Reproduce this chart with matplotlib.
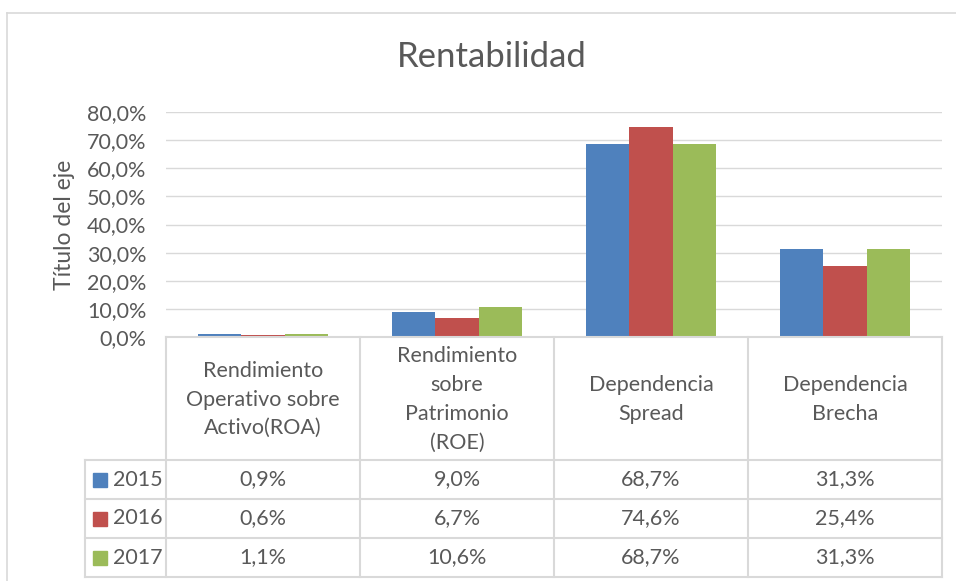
import numpy as np
import matplotlib.pyplot as plt
from matplotlib.patches import Rectangle

# Data
categories = ["Rendimiento\nOperativo sobre\nActivo(ROA)",
              "Rendimiento\nsobre\nPatrimonio\n(ROE)",
              "Dependencia\nSpread",
              "Dependencia\nBrecha"]
years = ["2015", "2016", "2017"]
v2015 = [0.009, 0.090, 0.687, 0.313]
v2016 = [0.006, 0.067, 0.746, 0.254]
v2017 = [0.011, 0.106, 0.687, 0.313]
series = [v2015, v2016, v2017]
colors = ["#4F81BD", "#C0504D", "#9BBB59"]

TXT = "#595959"
GRID = "#D9D9D9"
plt.rcParams["font.family"] = ["Lato", "DejaVu Sans"]


def pct(v, pos=None):
    return ("%.1f%%" % (v * 100)).replace(".", ",")


W, H = 956, 581
fig = plt.figure(figsize=(W / 100, H / 100), dpi=100)

# outer chart frame (right/bottom cropped in the original)
fig.add_artist(plt.Line2D([7 / W, 7 / W], [0, 1 - 13 / H], color=GRID, lw=1.2))
fig.add_artist(plt.Line2D([7 / W, 1], [1 - 13 / H, 1 - 13 / H], color=GRID, lw=1.2))

fig.text(492 / W, 1 - 57 / H, "Rentabilidad", ha="center", va="center",
         fontsize=25, color=TXT)

# plot area
x0, x1, ytop, ybot = 166, 942, 112, 337
ax = fig.add_axes([x0 / W, 1 - ybot / H, (x1 - x0) / W, (ybot - ytop) / H])
n = len(categories)
x = np.arange(n)
bw = 1 / 4.5  # Excel gap width 150 %
for i, (vals, c) in enumerate(zip(series, colors)):
    ax.bar(x + (i - 1) * bw, vals, width=bw, color=c, zorder=3)
ax.set_xlim(-0.5, n - 0.5)
ax.set_ylim(0, 0.8)
ax.set_yticks(np.arange(0, 0.81, 0.1))
ax.yaxis.set_major_formatter(plt.FuncFormatter(pct))
ax.tick_params(axis="y", length=0, pad=14, labelsize=15.5, labelcolor=TXT)
ax.set_xticks([])
ax.grid(axis="y", color=GRID, lw=1.0, zorder=0)
for s in ax.spines.values():
    s.set_visible(False)
ax.set_ylabel("Título del eje", fontsize=16.5, color=TXT, labelpad=9)

# data table below the axis
lx = 85
tb = 577
hdr_h = 123
row_h = (tb - ybot - hdr_h) / 3
tab = fig.add_axes([lx / W, 1 - tb / H, (x1 - lx) / W, (tb - ybot) / H])
extra = (x0 - lx) / ((x1 - x0) / n)
tab.set_xlim(-0.5 - extra, n - 0.5)
tab.set_ylim(tb - ybot, 0)
tab.axis("off")

lkw = dict(color=GRID, lw=1.5, clip_on=False)
tab.plot([-0.5, n - 0.5], [0, 0], **lkw)
for k in range(n + 1):
    tab.plot([k - 0.5, k - 0.5], [0, tb - ybot], **lkw)
tab.plot([-0.5 - extra, -0.5 - extra], [hdr_h, tb - ybot], **lkw)
for r in range(4):
    yy = hdr_h + r * row_h
    tab.plot([-0.5 - extra, n - 0.5], [yy, yy], **lkw)

for k, cat in enumerate(categories):
    tab.text(k, hdr_h / 2 + 1, cat, ha="center", va="center", fontsize=15.5,
             color=TXT, linespacing=1.55)

for r, (yr, vals, c) in enumerate(zip(years, series, colors)):
    yc = hdr_h + (r + 0.5) * row_h
    tab.add_patch(Rectangle((-0.5 - extra + 0.04, yc - 7), 0.075, 14,
                            color=c, clip_on=False))
    tab.text(-0.5 - extra + 0.145, yc, yr, ha="left", va="center",
             fontsize=15.5, color=TXT)
    for k, v in enumerate(vals):
        tab.text(k, yc, pct(v), ha="center", va="center", fontsize=15.5, color=TXT)

fig.savefig("out.png", dpi=100)
